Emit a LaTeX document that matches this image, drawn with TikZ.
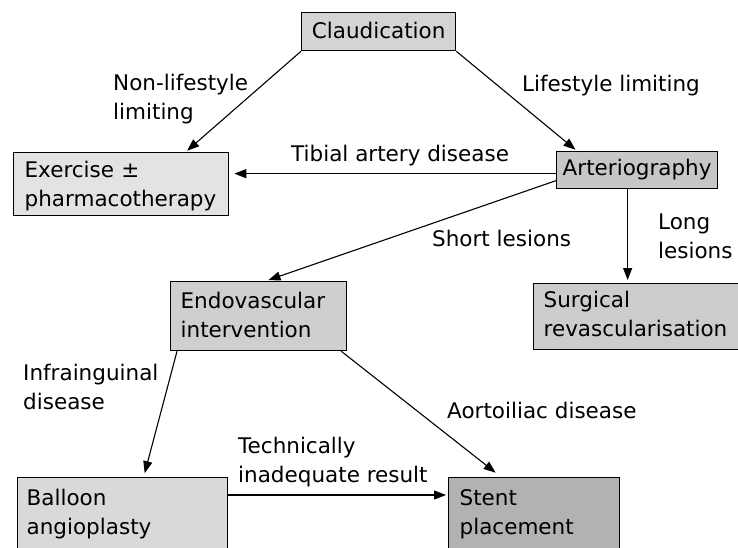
\documentclass[tikz,border=0pt]{standalone}
\usepackage{fontspec}
\setmainfont{DejaVu Sans}
\usetikzlibrary{arrows.meta}

\begin{document}
\begin{tikzpicture}[x=1pt,y=-1pt,
    every node/.style={font=\fontsize{21.5}{29}\selectfont},
    box/.style={draw, line width=1.3pt, anchor=north west, align=left, inner ysep=0pt},
    lbl/.style={anchor=base west, align=left, inner sep=0pt},
    arr/.style={-{Triangle[length=12pt,width=9pt]}, line width=1.1pt}]
  \clip (0,0) rectangle (738,548);
  \fill[white] (0,0) rectangle (738,548);

  % boxes
  \node[box, fill=black!17, inner xsep=8pt, text width=138pt, align=center,
        text height=26pt, text depth=12pt] (claud) at (301,12) {Claudication};
  \node[box, fill=black!11, inner xsep=11pt, text width=193pt,
        text height=25pt, text depth=38pt] (exer) at (13,152) {Exercise ±\\pharmacotherapy};
  \node[box, fill=black!22, inner xsep=4pt, text width=153pt, align=center,
        text height=24pt, text depth=13pt] (arter) at (556,151) {Arteriography};
  \node[box, fill=black!20, inner xsep=10pt, text width=185pt,
        text height=24pt, text depth=42pt] (surg) at (533,283) {Surgical\\revascularisation};
  \node[box, fill=black!19, inner xsep=10pt, text width=156pt,
        text height=27pt, text depth=42pt] (endo) at (170,281) {Endovascular\\intervention};
  \node[box, fill=black!15, inner xsep=9pt, text width=192pt,
        text height=28pt, text depth=60pt] (balloon) at (17,477) {Balloon\\angioplasty};
  \node[box, fill=black!30, inner xsep=11pt, text width=149pt,
        text height=28pt, text depth=60pt] (stent) at (448,477) {Stent\\placement};

  % connectors
  \draw[arr, shorten >=2pt] (claud.south west) -- ([xshift=64.5pt]exer.north);
  \draw[arr, shorten >=2pt] (claud.south east) -- ([xshift=21pt]arter.north west);
  \coordinate (tib) at ([yshift=-3.5pt]arter.west);
  \draw[arr, shorten >=5pt] (tib) -- (tib -| exer.east);
  \draw[arr, shorten >=3pt] ([yshift=-10.5pt]arter.west) -- ([xshift=7pt]endo.north);
  \coordinate (lng) at ([xshift=-9.5pt]arter.south);
  \draw[arr, shorten >=3pt] (lng) -- (lng |- surg.north);
  \draw[arr, shorten >=4pt] ([xshift=7pt]endo.south west) -- ([xshift=21pt]balloon.north);
  \draw[arr, shorten >=7pt] ([xshift=-6pt]endo.south east) -- ([xshift=-33pt]stent.north);
  \coordinate (tec) at ([yshift=-18pt]balloon.north east);
  \draw[arr, shorten >=2pt] (tec) -- (tec -| stent.west);

  % labels (base = last line)
  \node[lbl] (nonlife) at (113,120) {Non-lifestyle\\limiting};
  \node[lbl] (life) at (522,92) {Lifestyle limiting};
  \node[lbl] (tibial) at (291,161) {Tibial artery disease};
  \node[lbl] (short) at (432,246) {Short lesions};
  \node[lbl] (long) at (658,258) {Long\\lesions};
  \node[lbl] (infra) at (23,409) {Infrainguinal\\disease};
  \node[lbl] (aorto) at (447,418) {Aortoiliac disease};
  \node[lbl] (tech) at (238,482) {Technically\\inadequate result};
\end{tikzpicture}
\end{document}
